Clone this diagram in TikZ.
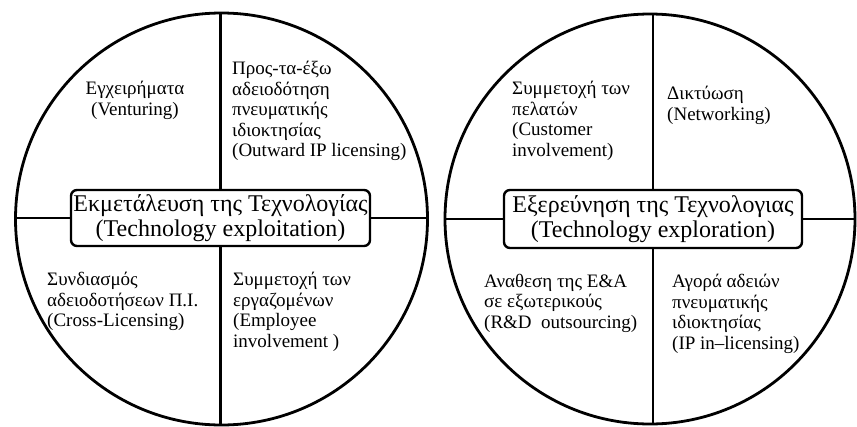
\documentclass[tikz,border=0pt]{standalone}
\usepackage{fontspec}
\setmainfont{Liberation Serif}
\usetikzlibrary{positioning}

\tikzset{
  ring/.style={draw, circle, line width=2.8pt, inner sep=0pt},
  core/.style={draw, rounded corners=6pt, line width=2.4pt, align=center,
    inner sep=0pt, font=\fontsize{24}{25.5}\selectfont},
  quad/.style={anchor=north west, align=left, inner sep=0pt,
    font=\fontsize{19}{20.5}\selectfont},
  split/.style={line width=2.8pt}
}

\begin{document}
\begin{tikzpicture}[x=1pt, y=-1pt]
    \useasboundingbox (0,0) rectangle (857,426);

    % exploitation
    \node[ring, minimum size=412pt] (lcirc) at (221.5,219) {};
    \node[core, minimum width=299pt, minimum height=56pt] (lbox) at (220.5,218)
        {Εκμετάλευση της Τεχνολογίας\\(Technology exploitation)};
    \draw[split] (lbox.north) -- (lbox.north |- lcirc.north);
    \draw[split] (lbox.south) -- (lbox.south |- lcirc.south);
    \draw[split] (lbox.west) -- (lbox.west -| lcirc.west);
    \draw[split] (lbox.east) -- (lbox.east -| lcirc.east);

    \node[quad, anchor=north, align=center] (venture) at (135,81)
        {Εγχειρήματα\\(Venturing)};
    \node[quad] (outward) at (232,61)
        {Προς-τα-έξω\\αδειοδότηση\\πνευματικής\\ιδιοκτησίας\\(Outward IP licensing)};
    \node[quad] (cross) at (47,272)
        {Συνδιασμός\\αδειοδοτήσεων Π.Ι.\\(Cross-Licensing)};
    \node[quad] (employee) at (233,272)
        {Συμμετοχή των\\εργαζομένων\\(Employee\\involvement )};

    % exploration
    \node[ring, minimum size=410pt] (rcirc) at (650,219) {};
    \node[core, minimum width=298pt, minimum height=58pt] (rbox) at (653,219)
        {Εξερεύνηση της Τεχνολογιας\\(Technology exploration)};
    \draw[split] (rbox.north) -- (rbox.north |- rcirc.north);
    \draw[split] (rbox.south) -- (rbox.south |- rcirc.south);
    \draw[split] (rbox.west) -- (rbox.west -| rcirc.west);
    \draw[split] (rbox.east) -- (rbox.east -| rcirc.east);

    \node[quad] (customer) at (512,81)
        {Συμμετοχή των\\πελατών\\(Customer\\involvement)};
    \node[quad] (network) at (667,86)
        {Δικτύωση\\(Networking)};
    \node[quad] (outsource) at (484,274)
        {Αναθεση της Ε\&Α\\σε εξωτερικούς\\(R\&D\ \ outsourcing)};
    \node[quad] (inlicense) at (672,274)
        {Αγορά αδειών\\πνευματικής\\ιδιοκτησίας\\(IP in–licensing)};
\end{tikzpicture}
\end{document}
